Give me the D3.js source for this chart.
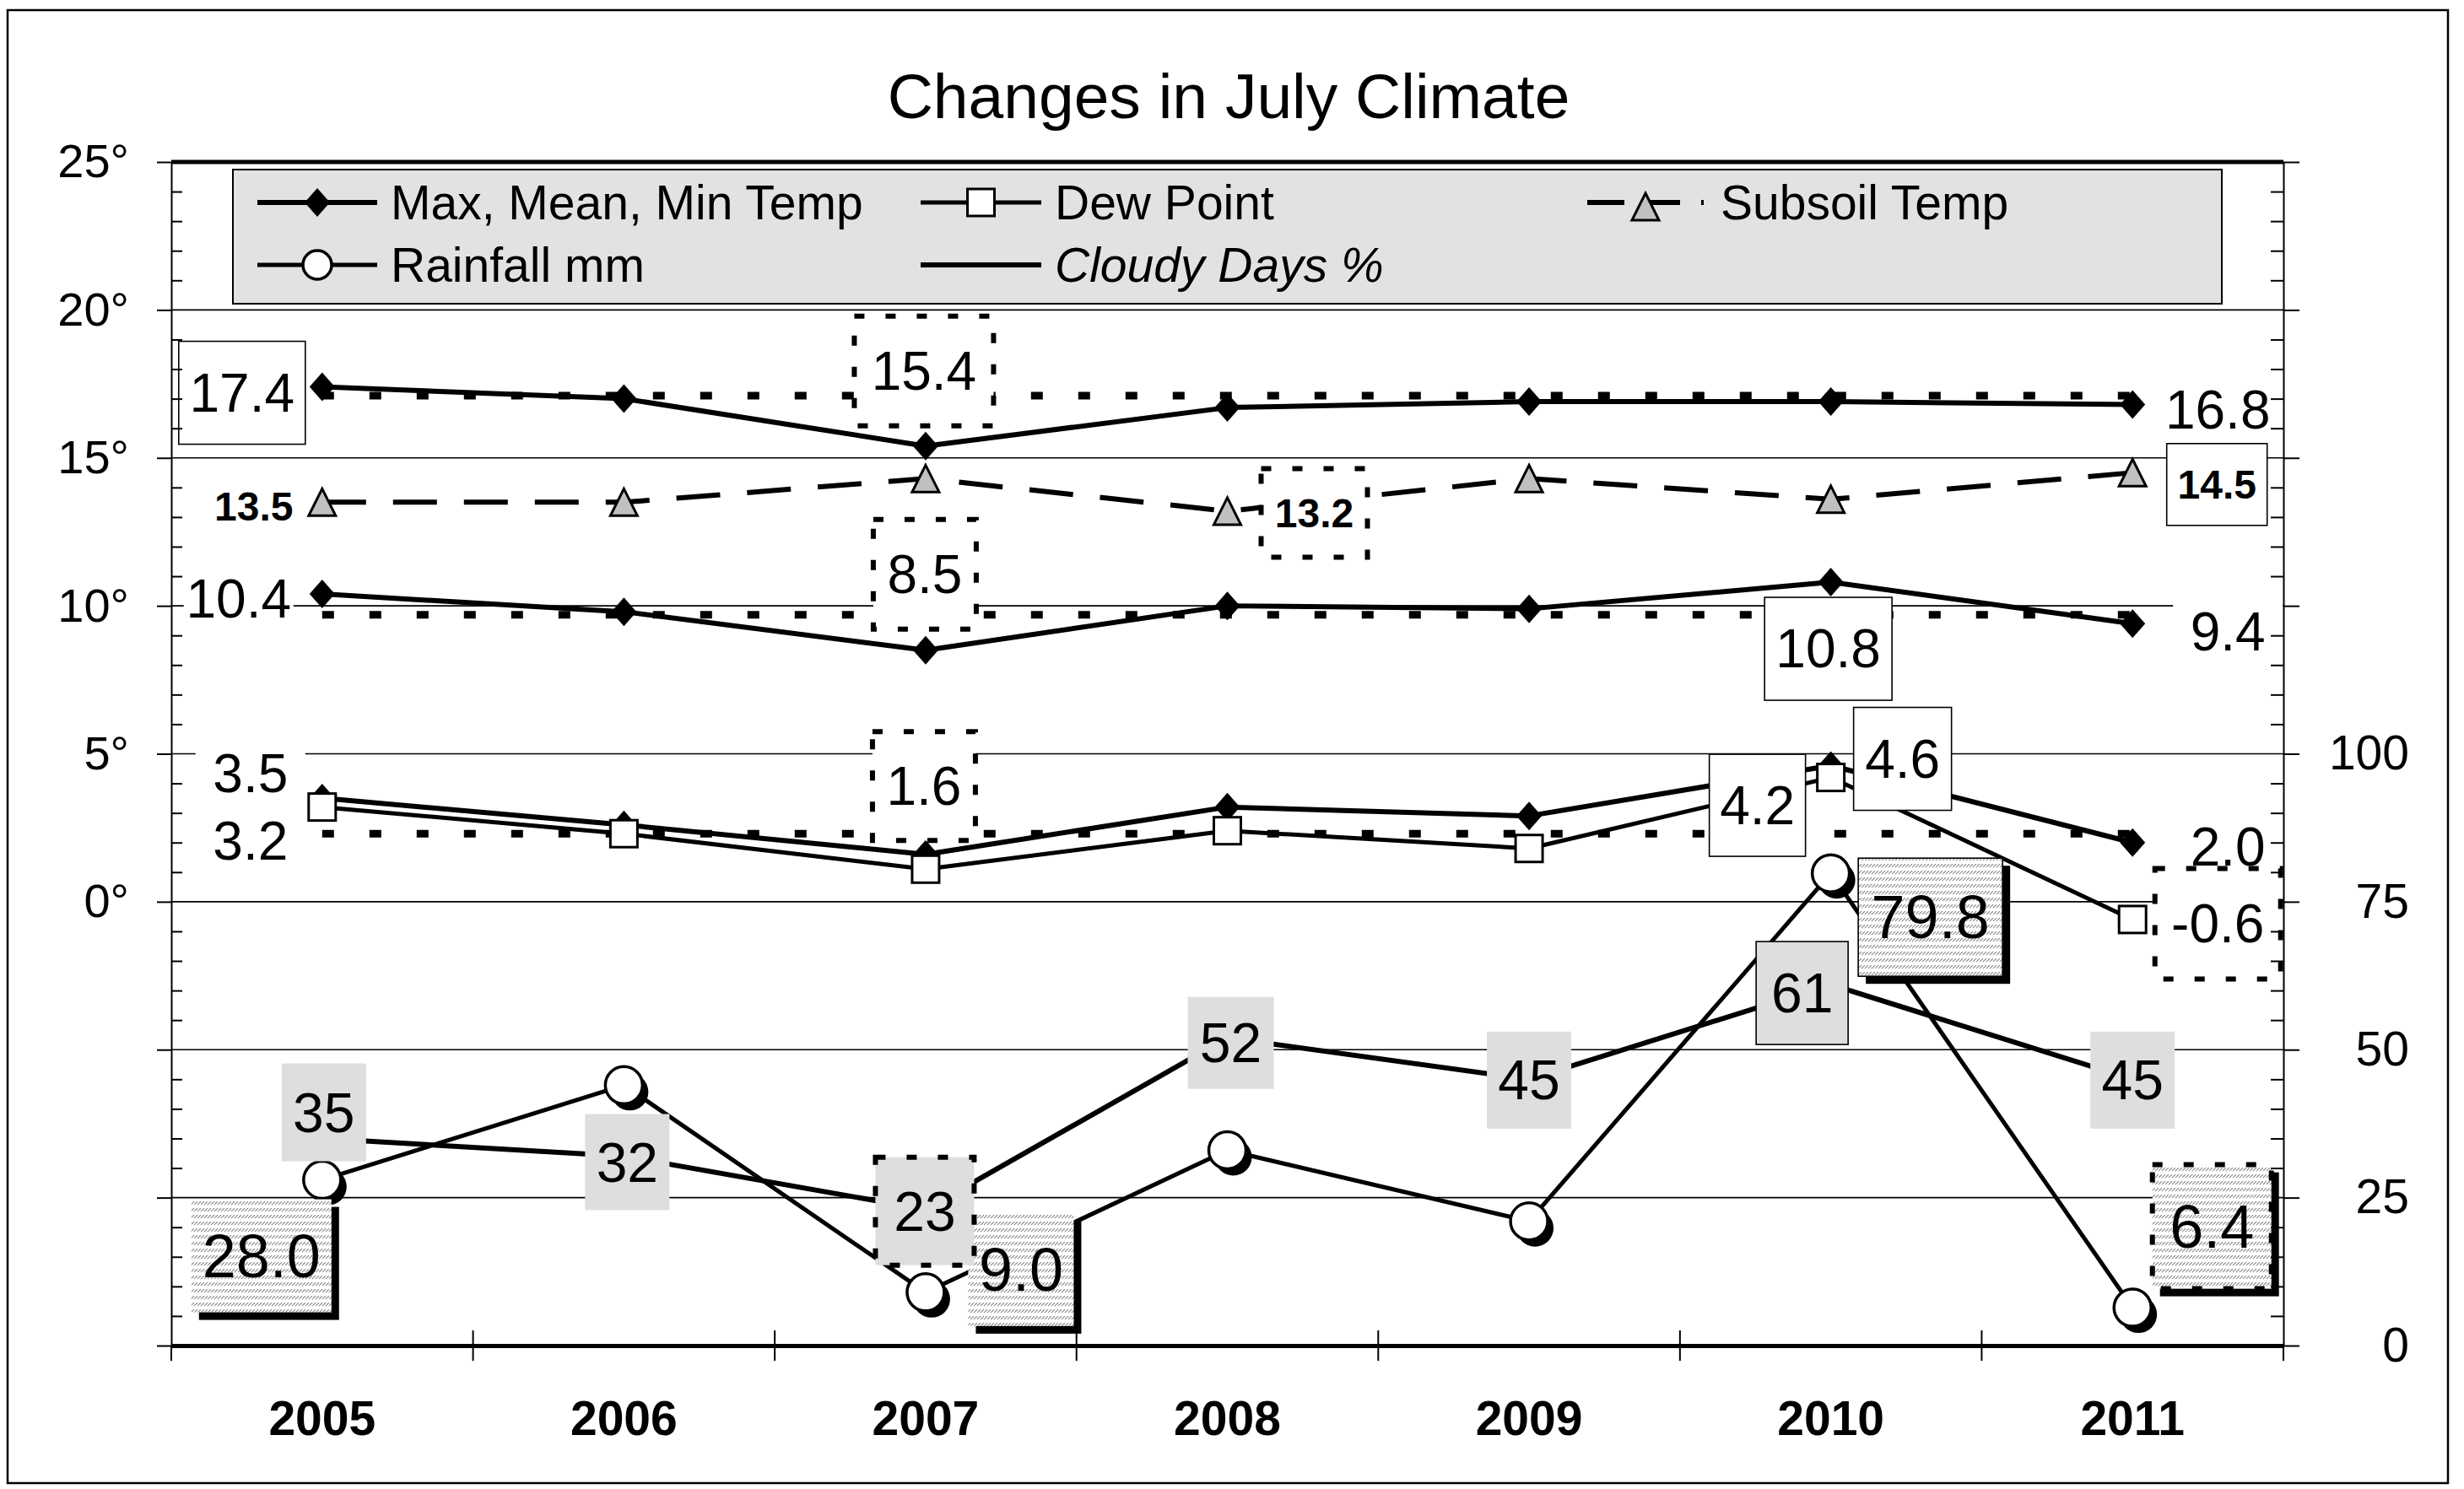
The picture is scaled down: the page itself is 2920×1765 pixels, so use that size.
<!DOCTYPE html>
<html>
<head>
<meta charset="utf-8">
<script src="https://cdnjs.cloudflare.com/ajax/libs/d3/7.8.5/d3.min.js"></script>
<style>
  body { margin: 0; background: #fff; }
  svg { display: block; font-family: "Liberation Sans", Arial, sans-serif; }
</style>
</head>
<body>
<div id="chart"></div>
<script>
// ---- data ----
const years = [2005, 2006, 2007, 2008, 2009, 2010, 2011];
const maxTemp = [17.4, 17.0, 15.4, 16.7, 16.9, 16.9, 16.8];
const meanTemp = [10.4, 9.8, 8.5, 10.0, 9.9, 10.8, 9.4];
const minTemp = [3.5, 2.6, 1.6, 3.2, 2.9, 4.6, 2.0];
const dewPoint = [3.2, 2.3, 1.1, 2.4, 1.8, 4.2, -0.6];
const subsoilTemp = [13.5, 13.5, 14.3, 13.2, 14.3, 13.6, 14.5];
const rainfall = [28.0, 44, 9.0, 33, 21, 79.8, 6.4];
const cloudyDays = [35, 32, 23, 52, 45, 61, 45];
// dotted reference levels for max, mean and min temperature
const tempNormals = [17.1, 9.7, 2.3];
const leftTickValues = [0, 5, 10, 15, 20, 25];
const leftTickLabels = ['0°', '5°', '10°', '15°', '20°', '25°'];
const rightTickValues = [0, 25, 50, 75, 100];
const legendNames = ['Max, Mean, Min Temp', 'Dew Point', 'Subsoil Temp', 'Rainfall mm', 'Cloudy Days %'];

// ---- layout ----
const width = 2920, height = 1765;
const margin = {top: 192, right: 214, bottom: 170, left: 203};
const innerWidth = width - margin.left - margin.right;
const innerHeight = height - margin.top - margin.bottom;

// where the value labels sit, relative to their point (px)
const labelLayout = {
  max: [
    {i: 0, dx: -95, dy: 7, w: 150, h: 122, border: 'solid'},
    {i: 2, dx: -2, dy: -89, w: 165, h: 130, border: 'dash'},
    {i: 6, dx: 101, dy: 6, w: 130, h: 74, border: 'none'}],
  mean: [
    {i: 0, dx: -99, dy: 6, w: 130, h: 74, border: 'none'},
    {i: 2, dx: -1, dy: -90, w: 122, h: 130, border: 'dash'},
    {i: 5, dx: -3, dy: 79, w: 151, h: 122, border: 'solid'},
    {i: 6, dx: 113, dy: 9, w: 130, h: 74, border: 'none'}],
  min: [
    {i: 0, dx: -85, dy: -30, w: 130, h: 74, border: 'none'},
    {i: 2, dx: -2, dy: -81, w: 122, h: 129, border: 'dash'},
    {i: 5, dx: 85, dy: -8, w: 116, h: 122, border: 'solid'},
    {i: 6, dx: 113, dy: 5, w: 110, h: 70, border: 'none'}],
  dew: [
    {i: 0, dx: -85, dy: 40, w: 110, h: 66, border: 'none'},
    {i: 5, dx: -87, dy: 33, w: 114, h: 121, border: 'solid'},
    {i: 6, dx: 101, dy: 5, w: 149, h: 131, border: 'dash'}],
  subsoil: [
    {i: 0, dx: -81, dy: 5, w: 104, h: 56, border: 'none'},
    {i: 3, dx: 103, dy: 2, w: 126, h: 105, border: 'dash'},
    {i: 6, dx: 100, dy: 14, w: 119, h: 97, border: 'solid'}],
  rain: [
    {i: 0, dx: -72, dy: 90, w: 166, h: 134, border: 'none'},
    {i: 2, dx: 113, dy: -27, w: 125, h: 134, border: 'none'},
    {i: 5, dx: 118, dy: 52, w: 171, h: 140, border: 'solid'},
    {i: 6, dx: 94, dy: -96, w: 141, h: 147, border: 'dash'}],
  cloudy: [
    {i: 0, dx: 2, dy: -31, w: 100, h: 116, border: 'none'},
    {i: 1, dx: 4, dy: 7, w: 100, h: 114, border: 'none'},
    {i: 2, dx: -1, dy: 2, w: 117, h: 128, border: 'dash'},
    {i: 3, dx: 4, dy: 6, w: 102, h: 109, border: 'none'},
    {i: 4, dx: 0, dy: 1, w: 100, h: 115, border: 'none'},
    {i: 5, dx: -34, dy: 10, w: 109, h: 122, border: 'solid'},
    {i: 6, dx: 0, dy: 1, w: 100, h: 115, border: 'none'}]
};

const svg = d3.select('#chart')
  .append('svg')
    .attr('width', width)
    .attr('height', height)
    .attr('viewBox', `0 0 ${width} ${height}`);

// hatch fill used behind the rainfall labels
const defs = svg.append('defs');
const hatch = defs.append('pattern')
    .attr('id', 'hatch')
    .attr('patternUnits', 'userSpaceOnUse')
    .attr('width', 4)
    .attr('height', 8);
hatch.append('rect')
    .attr('width', 4)
    .attr('height', 8)
    .attr('fill', '#fff');
hatch.append('path')
    .attr('d', 'M0,3L3,0M3,4L4,3')
    .attr('stroke', '#8a8a8a')
    .attr('stroke-width', 1.1);

// outer frame + title
svg.append('rect')
    .attr('x', 9).attr('y', 12)
    .attr('width', 2892).attr('height', 1746)
    .attr('fill', 'none')
    .attr('stroke', '#000')
    .attr('stroke-width', 2.5);

svg.append('text')
    .text('Changes in July Climate')
    .attr('x', 1456)
    .attr('y', 140)
    .attr('text-anchor', 'middle')
    .style('font-size', '75px');

const g = svg.append('g')
    .attr('transform', `translate(${margin.left}, ${margin.top})`);

// scales
const xScale = d3.scaleBand()
    .domain(years)
    .range([0, innerWidth]);
const cx = i => xScale(years[i]) + xScale.bandwidth() / 2;

const yLeft = d3.scaleLinear()
    .domain([-15, 25])
    .range([innerHeight, 0]);
const yRight = d3.scaleLinear()
    .domain([0, 200])
    .range([innerHeight, 0]);

// horizontal gridlines every 5 degrees
g.append('g')
  .selectAll('line')
  .data(d3.range(-10, 21, 5))
  .join('line')
    .attr('x1', 0)
    .attr('x2', innerWidth)
    .attr('y1', d => yLeft(d))
    .attr('y2', d => yLeft(d))
    .attr('stroke', '#000')
    .attr('stroke-width', 1.6);

// dotted reference lines
tempNormals.forEach(v => {
  g.append('path')
      .attr('d', d3.line().x((d, i) => cx(i)).y(d => yLeft(d))(years.map(() => v)))
      .attr('fill', 'none')
      .attr('stroke', '#000')
      .attr('stroke-width', 9)
      .attr('stroke-dasharray', '14 42');
});

const lineLeft = d3.line().x((d, i) => cx(i)).y(d => yLeft(d));
const lineRight = d3.line().x((d, i) => cx(i)).y(d => yRight(d));

const addLine = (path, width, dash) => g.append('path')
    .attr('d', path)
    .attr('fill', 'none')
    .attr('stroke', '#000')
    .attr('stroke-width', width)
    .attr('stroke-linejoin', 'round')
    .attr('stroke-dasharray', dash || null);

addLine(lineLeft(maxTemp), 6);
addLine(lineLeft(meanTemp), 6);
addLine(lineLeft(minTemp), 6);
addLine(lineLeft(dewPoint), 5);
addLine(lineLeft(subsoilTemp), 6, '52 32');
addLine(lineRight(cloudyDays), 6);
addLine(lineRight(rainfall), 5);

// marker helpers
const diamondPath = 'M0,-17L15,0L0,17L-15,0Z';
const trianglePath = 'M0,-16L16,16L-16,16Z';

const drawDiamond = (sel, x, y) => sel.append('path')
    .attr('d', diamondPath)
    .attr('transform', `translate(${x},${y})`)
    .attr('fill', '#000');
const drawSquare = (sel, x, y) => sel.append('rect')
    .attr('x', x - 16).attr('y', y - 16)
    .attr('width', 32).attr('height', 32)
    .attr('fill', '#fff')
    .attr('stroke', '#000')
    .attr('stroke-width', 3);
const drawTriangle = (sel, x, y) => sel.append('path')
    .attr('d', trianglePath)
    .attr('transform', `translate(${x},${y})`)
    .attr('fill', '#c0c0c0')
    .attr('stroke', '#000')
    .attr('stroke-width', 3);
const drawCircle = (sel, x, y, r, shadow) => {
  if (shadow) {
    sel.append('circle')
        .attr('cx', x + 7).attr('cy', y + 8).attr('r', r)
        .attr('fill', '#000');
  }
  sel.append('circle')
      .attr('cx', x).attr('cy', y).attr('r', r)
      .attr('fill', '#fff')
      .attr('stroke', '#000')
      .attr('stroke-width', 3.5);
};

const markers = g.append('g');
[maxTemp, meanTemp, minTemp].forEach(arr =>
  arr.forEach((v, i) => drawDiamond(markers, cx(i), yLeft(v))));
dewPoint.forEach((v, i) => drawSquare(markers, cx(i), yLeft(v)));
subsoilTemp.forEach((v, i) => drawTriangle(markers, cx(i), yLeft(v)));
rainfall.forEach((v, i) => drawCircle(markers, cx(i), yRight(v), 22, true));

// value labels
const labelStyles = {
  temp: {size: 64, weight: 400, fill: '#fff', shadow: false},
  subsoil: {size: 48, weight: 700, fill: '#fff', shadow: false},
  rain: {size: 72, weight: 400, fill: 'url(#hatch)', shadow: true},
  cloudy: {size: 66, weight: 400, fill: '#dedede', shadow: false}
};

const labelLayer = g.append('g');
const drawLabels = (values, yScale, spots, style, fmt) => {
  spots.forEach(s => {
    const px = cx(s.i) + s.dx;
    const py = yScale(values[s.i]) + s.dy;
    const lab = labelLayer.append('g');
    if (style.shadow) {
      lab.append('rect')
          .attr('x', px - s.w / 2 + 9).attr('y', py - s.h / 2 + 9)
          .attr('width', s.w).attr('height', s.h)
          .attr('fill', '#000');
    }
    const box = lab.append('rect')
        .attr('x', px - s.w / 2).attr('y', py - s.h / 2)
        .attr('width', s.w).attr('height', s.h)
        .attr('fill', style.fill);
    if (s.border === 'solid') {
      box.attr('stroke', '#000').attr('stroke-width', 1.6);
    } else if (s.border === 'dash') {
      box.attr('stroke', '#000').attr('stroke-width', 6).attr('stroke-dasharray', '12 25');
    }
    lab.append('text')
        .text(fmt(values[s.i]))
        .attr('x', px)
        .attr('y', py)
        .attr('dy', '0.35em')
        .attr('text-anchor', 'middle')
        .style('font-size', `${style.size}px`)
        .style('font-weight', style.weight);
  });
};

const oneDecimal = v => v.toFixed(1);
drawLabels(maxTemp, yLeft, labelLayout.max, labelStyles.temp, oneDecimal);
drawLabels(meanTemp, yLeft, labelLayout.mean, labelStyles.temp, oneDecimal);
drawLabels(minTemp, yLeft, labelLayout.min, labelStyles.temp, oneDecimal);
drawLabels(dewPoint, yLeft, labelLayout.dew, labelStyles.temp, oneDecimal);
drawLabels(subsoilTemp, yLeft, labelLayout.subsoil, labelStyles.subsoil, oneDecimal);
drawLabels(rainfall, yRight, labelLayout.rain, labelStyles.rain, oneDecimal);
drawLabels(cloudyDays, yRight, labelLayout.cloudy, labelStyles.cloudy, v => String(v));

// ---- axes ----
const styleAxis = sel => sel.attr('font-family', null).attr('font-size', null);
const dropEmptyText = sel => sel.selectAll('text').filter(function () { return this.textContent === ''; }).remove();

// left: major ticks outside, minor ticks inside
const leftAxis = g.append('g')
    .call(d3.axisLeft(yLeft)
      .tickValues(d3.range(-15, 26, 5))
      .tickSize(17)
      .tickSizeOuter(0)
      .tickPadding(33)
      .tickFormat(d => {
        const k = leftTickValues.indexOf(d);
        return k >= 0 ? leftTickLabels[k] : '';
      }))
    .call(styleAxis)
    .call(dropEmptyText);
leftAxis.select('.domain').attr('stroke-width', 2);
leftAxis.selectAll('line').attr('stroke-width', 2);
leftAxis.selectAll('text')
    .attr('fill', '#000')
    .style('font-size', '56px');

g.append('g')
    .call(d3.axisLeft(yLeft)
      .tickValues(d3.range(-15, 26).filter(d => d % 5 !== 0))
      .tickSize(-13)
      .tickFormat(''))
    .call(sel => sel.select('.domain').remove())
    .call(dropEmptyText)
    .selectAll('line').attr('stroke-width', 2);

// right: 0-100 labels on the lower half
const rightAxis = g.append('g')
    .attr('transform', `translate(${innerWidth}, 0)`)
    .call(d3.axisRight(yRight)
      .tickValues(d3.range(0, 201, 25))
      .tickSize(19)
      .tickSizeOuter(0)
      .tickFormat(d => rightTickValues.includes(d) ? d : ''))
    .call(styleAxis)
    .call(dropEmptyText);
rightAxis.select('.domain').attr('stroke-width', 2);
rightAxis.selectAll('line').attr('stroke-width', 2);
rightAxis.selectAll('text')
    .attr('x', 149)
    .attr('text-anchor', 'end')
    .attr('fill', '#000')
    .style('font-size', '57px');

g.append('g')
    .attr('transform', `translate(${innerWidth}, 0)`)
    .call(d3.axisRight(yRight)
      .tickValues(d3.range(0, 201, 5).filter(d => d % 25 !== 0))
      .tickSize(-15)
      .tickFormat(''))
    .call(sel => sel.select('.domain').remove())
    .call(dropEmptyText)
    .selectAll('line').attr('stroke-width', 2);

// bottom axis with year labels
const xAxis = g.append('g')
    .attr('transform', `translate(0, ${innerHeight})`)
    .call(d3.axisBottom(xScale).tickSize(0).tickSizeOuter(0))
    .call(styleAxis);
xAxis.select('.domain').attr('stroke-width', 5);
xAxis.selectAll('text')
    .attr('y', 106)
    .attr('dy', 0)
    .attr('fill', '#000')
    .style('font-size', '57px')
    .style('font-weight', 700);

// category boundary ticks
const bounds = years.map(y => xScale(y)).concat([innerWidth]);
xAxis.append('g')
  .selectAll('line')
  .data(bounds)
  .join('line')
    .attr('x1', d => d)
    .attr('x2', d => d)
    .attr('y1', (d, i) => (i === 0 || i === bounds.length - 1) ? 0 : -18)
    .attr('y2', 18)
    .attr('stroke', '#000')
    .attr('stroke-width', 2);

// thick top edge of the plot
g.append('line')
    .attr('x1', 0)
    .attr('x2', innerWidth)
    .attr('y1', 0)
    .attr('y2', 0)
    .attr('stroke', '#000')
    .attr('stroke-width', 5);

// ---- legend ----
const legend = svg.append('g');
legend.append('rect')
    .attr('x', 276).attr('y', 201)
    .attr('width', 2357).attr('height', 159)
    .attr('fill', '#e2e2e2')
    .attr('stroke', '#000')
    .attr('stroke-width', 2);

const legendSpots = [
  {x: 305, y: 240, len: 142, tx: 463},
  {x: 1091, y: 240, len: 143, tx: 1250},
  {x: 1881, y: 240, len: 140, tx: 2039},
  {x: 305, y: 314, len: 142, tx: 463},
  {x: 1091, y: 314, len: 143, tx: 1250}
];
const legendLine = [
  {w: 6, dash: null}, {w: 5, dash: null}, {w: 6, dash: '44 26 40 25 3 100'},
  {w: 5, dash: null}, {w: 6, dash: null}
];

legendNames.forEach((name, k) => {
  const s = legendSpots[k];
  legend.append('line')
      .attr('x1', s.x).attr('x2', s.x + s.len)
      .attr('y1', s.y).attr('y2', s.y)
      .attr('stroke', '#000')
      .attr('stroke-width', legendLine[k].w)
      .attr('stroke-dasharray', legendLine[k].dash);
  const mx = s.x + s.len / 2;
  if (k === 0) drawDiamond(legend, mx, s.y);
  if (k === 1) drawSquare(legend, mx, s.y);
  if (k === 2) drawTriangle(legend, s.x + 69, s.y + 5);
  if (k === 3) drawCircle(legend, mx, s.y, 17, false);
  legend.append('text')
      .text(name)
      .attr('x', s.tx)
      .attr('y', s.y)
      .attr('dy', '0.35em')
      .style('font-size', '57px')
      .style('font-style', k === 4 ? 'italic' : 'normal');
});
</script>
</body>
</html>
